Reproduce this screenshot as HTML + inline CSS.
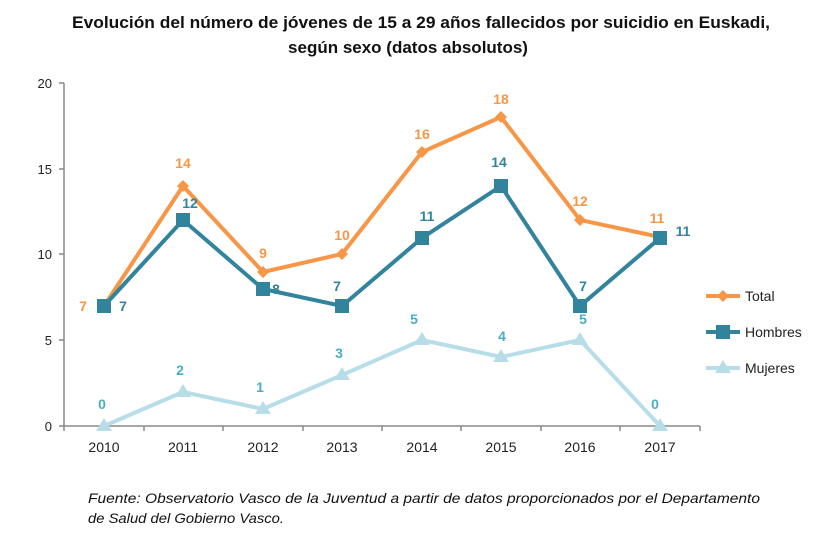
<!DOCTYPE html><html><head><style>body{margin:0;background:#fff;}</style></head><body>
<svg width="817" height="532" xmlns="http://www.w3.org/2000/svg" font-family="Liberation Sans, sans-serif">
<rect width="817" height="532" fill="#fff"/>
<text x="72" y="28" font-size="17" font-weight="bold" fill="#111" textLength="698" lengthAdjust="spacingAndGlyphs">Evolución del número de jóvenes de 15 a 29 años fallecidos por suicidio en Euskadi,</text>
<text x="408" y="53" text-anchor="middle" font-size="17" font-weight="bold" fill="#111">según sexo (datos absolutos)</text>
<g stroke="#888" stroke-width="1.5">
<line x1="64" y1="83" x2="64" y2="426"/><line x1="64" y1="426" x2="700" y2="426"/>
<line x1="59" y1="83" x2="64" y2="83"/><line x1="59" y1="169" x2="64" y2="169"/><line x1="59" y1="254" x2="64" y2="254"/><line x1="59" y1="340" x2="64" y2="340"/><line x1="59" y1="426" x2="64" y2="426"/>
<line x1="64" y1="426" x2="64" y2="431"/><line x1="144" y1="426" x2="144" y2="431"/><line x1="223" y1="426" x2="223" y2="431"/><line x1="303" y1="426" x2="303" y2="431"/><line x1="382" y1="426" x2="382" y2="431"/><line x1="461" y1="426" x2="461" y2="431"/><line x1="541" y1="426" x2="541" y2="431"/><line x1="620" y1="426" x2="620" y2="431"/><line x1="700" y1="426" x2="700" y2="431"/>
</g>
<g font-size="13" fill="#222" text-anchor="end"><text x="52" y="88">20</text><text x="52" y="174">15</text><text x="52" y="259">10</text><text x="52" y="345">5</text><text x="52" y="431">0</text></g>
<g font-size="14" fill="#222" text-anchor="middle"><text x="104" y="452">2010</text><text x="183" y="452">2011</text><text x="263" y="452">2012</text><text x="342" y="452">2013</text><text x="422" y="452">2014</text><text x="501" y="452">2015</text><text x="580" y="452">2016</text><text x="660" y="452">2017</text></g>
<polyline fill="none" stroke="#F79646" stroke-width="4" points="104,306 183,186 263,272 342,254 422,152 501,117 580,220 660,237"/>
<g fill="#F79646">
<path d="M104,300l6,6-6,6-6-6z M183,180l6,6-6,6-6-6z M263,266l6,6-6,6-6-6z M342,248l6,6-6,6-6-6z M422,146l6,6-6,6-6-6z M501,111l6,6-6,6-6-6z M580,214l6,6-6,6-6-6z M660,231l6,6-6,6-6-6z"/>
</g>
<polyline fill="none" stroke="#31849B" stroke-width="4" points="104,306 183,220 263,289 342,306 422,238 501,186 580,306 660,238"/>
<g fill="#31849B">
<rect x="97" y="299" width="14" height="14"/><rect x="176" y="213" width="14" height="14"/><rect x="256" y="282" width="14" height="14"/><rect x="335" y="299" width="14" height="14"/><rect x="415" y="231" width="14" height="14"/><rect x="494" y="179" width="14" height="14"/><rect x="573" y="299" width="14" height="14"/><rect x="653" y="231" width="14" height="14"/>
</g>
<polyline fill="none" stroke="#B7DEE8" stroke-width="4" points="104,426 183,392 263,409 342,375 422,340 501,357 580,340 660,426"/>
<g fill="#B7DEE8">
<path d="M104,418l8,13h-16z M183,384l8,13h-16z M263,401l8,13h-16z M342,367l8,13h-16z M422,332l8,13h-16z M501,349l8,13h-16z M580,332l8,13h-16z M660,418l8,13h-16z"/>
</g>
<g font-size="14" font-weight="bold" fill="#F79646" text-anchor="middle">
<text x="83" y="311">7</text><text x="183" y="168">14</text><text x="263" y="258">9</text><text x="342" y="240">10</text><text x="422" y="139">16</text><text x="501" y="104">18</text><text x="580" y="206">12</text><text x="657" y="223">11</text>
</g>
<g font-size="14" font-weight="bold" fill="#31849B" text-anchor="middle">
<text x="123" y="311">7</text><text x="190" y="208">12</text><text x="276" y="294">8</text><text x="337" y="291">7</text><text x="427" y="221">11</text><text x="499" y="167">14</text><text x="583" y="291">7</text><text x="683" y="236">11</text>
</g>
<g font-size="14" font-weight="bold" fill="#4BACC6" text-anchor="middle">
<text x="102" y="409">0</text><text x="180" y="375">2</text><text x="260" y="392">1</text><text x="339" y="358">3</text><text x="414" y="324">5</text><text x="502" y="341">4</text><text x="583" y="324">5</text><text x="655" y="409">0</text>
</g>
<line x1="706" y1="296" x2="740" y2="296" stroke="#F79646" stroke-width="4"/><path d="M723,290l6,6-6,6-6-6z" fill="#F79646"/>
<text x="745" y="301" font-size="14" fill="#222">Total</text>
<line x1="706" y1="332" x2="740" y2="332" stroke="#31849B" stroke-width="4"/><rect x="716" y="325" width="14" height="14" fill="#31849B"/>
<text x="745" y="337" font-size="14" fill="#222">Hombres</text>
<line x1="706" y1="368" x2="740" y2="368" stroke="#B7DEE8" stroke-width="4"/><path d="M723,360l8,13h-16z" fill="#B7DEE8"/>
<text x="745" y="373" font-size="14" fill="#222">Mujeres</text>
<text x="88" y="503" font-size="14" font-style="italic" fill="#111" textLength="672" lengthAdjust="spacingAndGlyphs">Fuente: Observatorio Vasco de la Juventud a partir de datos proporcionados por el Departamento</text>
<text x="88" y="523" font-size="14" font-style="italic" fill="#111" textLength="196" lengthAdjust="spacingAndGlyphs">de Salud del Gobierno Vasco.</text>
</svg>
</body></html>
